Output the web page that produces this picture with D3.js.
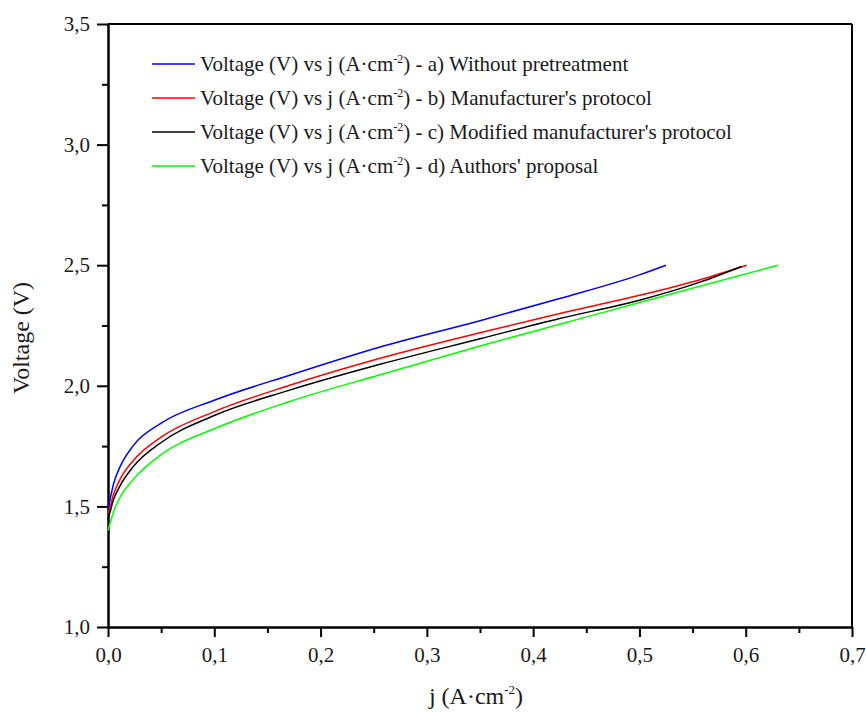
<!DOCTYPE html>
<html>
<head>
<meta charset="utf-8">
<script src="https://cdn.jsdelivr.net/npm/d3@7/dist/d3.min.js"></script>
<style>
  html, body { margin: 0; padding: 0; background: #fff; }
  svg { display: block; }
  svg text { font-family: "Liberation Serif", "DejaVu Serif", serif !important; fill: #1a1a1a; }
</style>
</head>
<body>
<svg id="chart" width="866" height="712"></svg>
<script>
// ---- Data ----
const seriesNames = [
  "a) Without pretreatment",
  "b) Manufacturer's protocol",
  "c) Modified manufacturer's protocol",
  "d) Authors' proposal"
];
const seriesColors = ["#0000ff", "#ff0000", "#000000", "#00ff00"];

const jA = [0.0, 0.002, 0.005, 0.0113, 0.0238, 0.05, 0.1, 0.171, 0.256, 0.35, 0.425, 0.5, 0.525];
const vA = [1.49, 1.53, 1.59, 1.664, 1.752, 1.845, 1.94, 2.044, 2.161, 2.27, 2.362, 2.46, 2.50];

const jB = [0.0, 0.002, 0.005, 0.0113, 0.0238, 0.05, 0.1, 0.171, 0.256, 0.35, 0.425, 0.5, 0.557, 0.601];
const vB = [1.47, 1.50, 1.547, 1.612, 1.69, 1.787, 1.893, 2.002, 2.114, 2.22, 2.30, 2.375, 2.44, 2.50];

const jC = [0.0, 0.002, 0.005, 0.0113, 0.0238, 0.05, 0.1, 0.171, 0.256, 0.35, 0.425, 0.5, 0.557, 0.596];
const vC = [1.45, 1.478, 1.526, 1.585, 1.665, 1.765, 1.877, 1.982, 2.089, 2.195, 2.279, 2.355, 2.43, 2.495];

const jD = [0.0, 0.002, 0.005, 0.0113, 0.0238, 0.05, 0.1, 0.171, 0.256, 0.35, 0.425, 0.5, 0.6306];
const vD = [1.40, 1.43, 1.475, 1.537, 1.612, 1.715, 1.822, 1.935, 2.046, 2.165, 2.255, 2.345, 2.50];

const xTicks = [0, 0.1, 0.2, 0.3, 0.4, 0.5, 0.6, 0.7];
const xMinorTicks = [0.05, 0.15, 0.25, 0.35, 0.45, 0.55, 0.65];
const yTicks = [1.0, 1.5, 2.0, 2.5, 3.0, 3.5];
const yMinorTicks = [1.25, 1.75, 2.25, 2.75, 3.25];

const seriesJ = [jA, jB, jC, jD];
const seriesV = [vA, vB, vC, vD];

// ---- Layout ----
const svg = d3.select("#chart");
const mLeft = 108, mRight = 852, mTop = 24, mBottom = 627;

const x = d3.scaleLinear().domain([0, 0.7]).range([mLeft, mRight]);
const y = d3.scaleLinear().domain([1.0, 3.5]).range([mBottom, mTop]);

const fmt = v => d3.format(".1f")(v).replace(".", ",");

// frame (top & right)
svg.append("line").attr("x1", mLeft).attr("x2", mRight).attr("y1", mTop).attr("y2", mTop)
  .style("stroke", "#000").style("stroke-width", "2px");
svg.append("line").attr("x1", mRight).attr("x2", mRight).attr("y1", mTop).attr("y2", mBottom)
  .style("stroke", "#000").style("stroke-width", "2px");

// bottom axis
const xAxis = svg.append("g").attr("transform", `translate(0,${mBottom})`)
  .call(d3.axisBottom(x).tickValues(xTicks).tickFormat(fmt).tickSize(10).tickSizeOuter(0).tickPadding(10));
const xMinor = svg.append("g").attr("transform", `translate(0,${mBottom})`)
  .call(d3.axisBottom(x).tickValues(xMinorTicks).tickFormat("").tickSize(6).tickSizeOuter(0));

// left axis
const yAxis = svg.append("g").attr("transform", `translate(${mLeft},0)`)
  .call(d3.axisLeft(y).tickValues(yTicks).tickFormat(fmt).tickSize(11).tickSizeOuter(0).tickPadding(7));
const yMinor = svg.append("g").attr("transform", `translate(${mLeft},0)`)
  .call(d3.axisLeft(y).tickValues(yMinorTicks).tickFormat("").tickSize(6).tickSizeOuter(0));

[xAxis, xMinor, yAxis, yMinor].forEach(g => {
  g.selectAll("path.domain").style("stroke", "#000").style("stroke-width", "2px");
  g.selectAll(".tick line").style("stroke", "#000").style("stroke-width", "2px");
  g.selectAll(".tick text").style("font-size", "21px");
});

// curves
const line = d3.line().x(d => x(d[0])).y(d => y(d[1])).curve(d3.curveMonotoneX);
seriesJ.forEach((js, i) => {
  const pts = js.map((j, k) => [j, seriesV[i][k]]);
  svg.append("path").datum(pts).attr("d", line)
    .style("fill", "none").style("stroke", seriesColors[i]).style("stroke-width", "1.5px");
});

// legend
const legY0 = 64, legDy = 34;
seriesNames.forEach((name, i) => {
  const yy = legY0 + i * legDy;
  svg.append("line").attr("x1", 152).attr("x2", 195).attr("y1", yy).attr("y2", yy)
    .style("stroke", seriesColors[i]).style("stroke-width", "1.5px");
  const t = svg.append("text").attr("x", 200).attr("y", yy + 7).style("font-size", "21px");
  t.append("tspan").text("Voltage (V) vs j (A\u00B7cm");
  t.append("tspan").style("font-size", "12px").attr("dy", -8).text("-2");
  t.append("tspan").attr("dy", 8).text(") - " + name);
});

// axis titles
svg.append("text").attr("transform", "translate(29,338) rotate(-90)")
  .attr("text-anchor", "middle").style("font-size", "24px").text("Voltage (V)");

const xt = svg.append("text").attr("x", 476).attr("y", 704)
  .attr("text-anchor", "middle").style("font-size", "24px");
xt.append("tspan").text("j (A\u00B7cm");
xt.append("tspan").style("font-size", "13px").attr("dy", -10).text("-2");
xt.append("tspan").attr("dy", 10).text(")");
</script>
</body>
</html>
